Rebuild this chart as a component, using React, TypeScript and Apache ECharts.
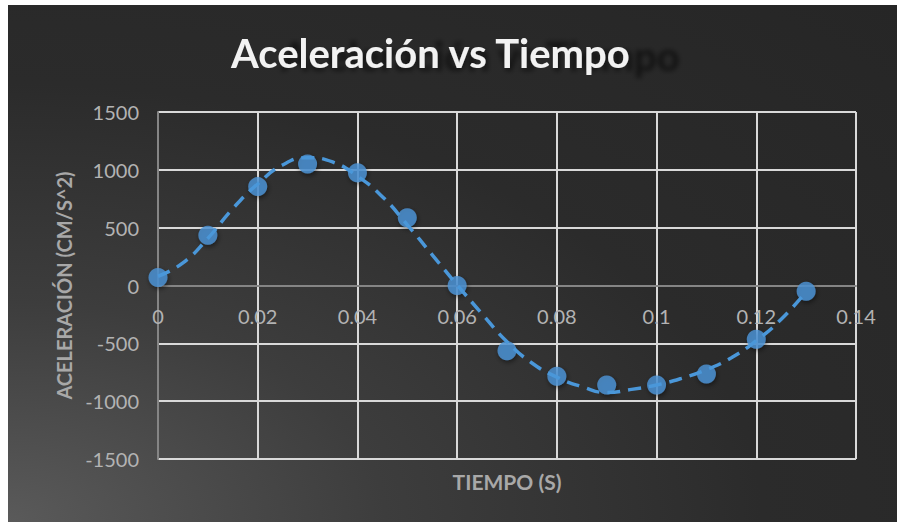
import React, { useEffect, useRef } from "react";
import * as echarts from "echarts";

const chartTitle = "Aceleración vs Tiempo";
const xAxisTitle = "TIEMPO (S)";
const yAxisTitle = "ACELERACIÓN (CM/S^2)";

const timeValues = [0, 0.01, 0.02, 0.03, 0.04, 0.05, 0.06, 0.07, 0.08, 0.09, 0.1, 0.11, 0.12, 0.13];
const accelValues = [70, 435, 855, 1050, 975, 585, 0, -565, -785, -860, -860, -765, -465, -50];

const trendTime = [
  0, 0.005, 0.01, 0.015, 0.02, 0.025, 0.03, 0.035, 0.04, 0.045, 0.05, 0.055, 0.06, 0.065,
  0.07, 0.075, 0.08, 0.085, 0.09, 0.095, 0.1, 0.105, 0.11, 0.115, 0.12, 0.125, 0.13,
];
const trendAccel = [
  80, 195, 408, 665, 878, 1042, 1105, 1068, 945, 768, 525, 265, 5, -245,
  -487, -670, -792, -874, -925, -898, -860, -803, -728, -625, -477, -292, -55,
];

const xMin = 0;
const xMax = 0.14;
const xStep = 0.02;
const yMin = -1500;
const yMax = 1500;
const yStep = 500;

const CHART_W = 889;
const CHART_H = 517;
const GRID = { left: 150, right: 41, top: 107, bottom: 63 };

export default function App() {
  const ref = useRef<HTMLDivElement>(null);

  useEffect(() => {
    if (!ref.current) return;
    const chart = echarts.init(ref.current, null, { renderer: "svg" });
    const font = "Lato, 'Open Sans', sans-serif";
    const plotH = CHART_H - GRID.top - GRID.bottom;
    // place the x axis where y = 0 crosses (axis crosses at zero, as in the reference)
    const zeroOffset = -plotH * ((0 - yMin) / (yMax - yMin));
    chart.setOption({
      animation: false,
      backgroundColor: "transparent",
      title: {
        text: chartTitle,
        left: 218,
        top: 23,
        textStyle: {
          fontFamily: font,
          fontSize: 40,
          fontWeight: "bold",
          color: "#f2f2f2",
          textShadowColor: "rgba(0,0,0,0.55)",
          textShadowBlur: 5,
          textShadowOffsetX: 50,
          textShadowOffsetY: 3,
        },
      },
      grid: { ...GRID, containLabel: false },
      xAxis: {
        type: "value",
        min: xMin,
        max: xMax,
        interval: xStep,
        position: "bottom",
        offset: zeroOffset,
        axisLine: { show: true, onZero: false, lineStyle: { color: "#858585", width: 2 } },
        axisTick: { show: false },
        axisLabel: {
          color: "#b3b3b3",
          fontFamily: font,
          fontSize: 20,
          margin: 20,
          formatter: (v: number) => String(Math.round(v * 100) / 100),
        },
        splitLine: { show: true, lineStyle: { color: "#d9d9d9", width: 2 } },
      },
      yAxis: {
        type: "value",
        min: yMin,
        max: yMax,
        interval: yStep,
        name: yAxisTitle,
        nameLocation: "middle",
        nameGap: 81,
        nameTextStyle: { color: "#a8a8a8", fontFamily: font, fontSize: 20, fontWeight: "bold" },
        axisLine: { show: true, onZero: false, lineStyle: { color: "#858585", width: 2 } },
        axisTick: { show: false },
        axisLabel: {
          color: "#b3b3b3",
          fontFamily: font,
          fontSize: 20,
          margin: 19,
          formatter: (v: number) => String(v),
        },
        splitLine: { show: true, lineStyle: { color: "#d9d9d9", width: 2 } },
      },
      graphic: [
        {
          type: "text",
          x: 499,
          y: 476,
          style: {
            text: xAxisTitle,
            fill: "#a8a8a8",
            font: `bold 21px ${font}`,
            textAlign: "center",
            textVerticalAlign: "middle",
          },
        },
      ],
      series: [
        {
          type: "scatter",
          data: timeValues.map((t, i) => [t, accelValues[i]]),
          symbol: "circle",
          symbolSize: 19,
          itemStyle: {
            color: "#4d95d8",
            shadowColor: "rgba(0,0,0,0.6)",
            shadowBlur: 5,
            shadowOffsetX: 1,
            shadowOffsetY: 2,
          },
          z: 3,
        },
        {
          type: "line",
          data: trendTime.map((t, i) => [t, trendAccel[i]]),
          smooth: 0.5,
          showSymbol: false,
          symbol: "none",
          lineStyle: { color: "#4a97d9", width: 3.5, type: [13, 8], cap: "butt" },
          z: 4,
        },
      ],
    });
    return () => chart.dispose();
  }, []);

  return (
    <div
      ref={ref}
      style={{
        position: "absolute",
        left: 8,
        top: 5,
        width: CHART_W,
        height: CHART_H,
        background:
          "radial-gradient(ellipse farthest-corner at 0% 100%, #5a5a5a 0%, #3d3d3d 30%, #2b2b2b 60%, #262626 100%)",
      }}
    />
  );
}
